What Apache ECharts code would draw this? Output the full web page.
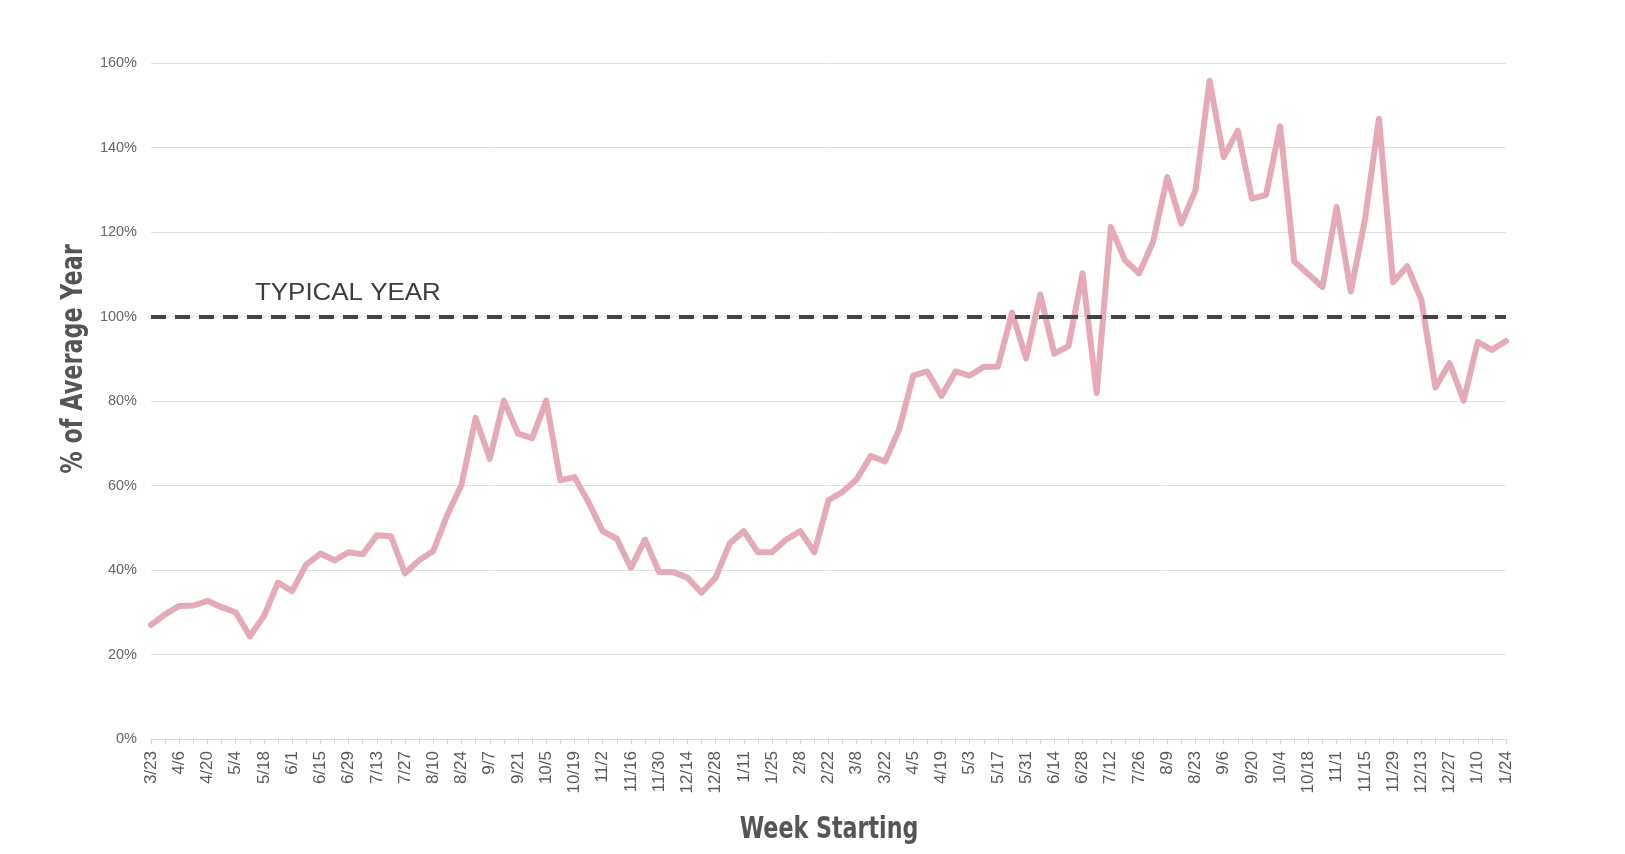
<!DOCTYPE html>
<html>
<head>
<meta charset="utf-8">
<title>% of Average Year</title>
<script src="https://cdn.jsdelivr.net/npm/echarts@6/dist/echarts.min.js"></script>
<style>
    html, body { margin: 0; padding: 0; background: #fff; }
    #chart { width: 1625px; height: 854px; }
</style>
</head>
<body>
<div id="chart"></div>
<script>
// week starting dates, 3/23/2020 .. 1/24/2022
const weeks = [
    '3/23', '3/30', '4/6', '4/13', '4/20', '4/27', '5/4', '5/11', '5/18', '5/25',
    '6/1', '6/8', '6/15', '6/22', '6/29', '7/6', '7/13', '7/20', '7/27', '8/3',
    '8/10', '8/17', '8/24', '8/31', '9/7', '9/14', '9/21', '9/28', '10/5', '10/12',
    '10/19', '10/26', '11/2', '11/9', '11/16', '11/23', '11/30', '12/7', '12/14', '12/21',
    '12/28', '1/4', '1/11', '1/18', '1/25', '2/1', '2/8', '2/15', '2/22', '3/1',
    '3/8', '3/15', '3/22', '3/29', '4/5', '4/12', '4/19', '4/26', '5/3', '5/10',
    '5/17', '5/24', '5/31', '6/7', '6/14', '6/21', '6/28', '7/5', '7/12', '7/19',
    '7/26', '8/2', '8/9', '8/16', '8/23', '8/30', '9/6', '9/13', '9/20', '9/27',
    '10/4', '10/11', '10/18', '10/25', '11/1', '11/8', '11/15', '11/22', '11/29', '12/6',
    '12/13', '12/20', '12/27', '1/3', '1/10', '1/17', '1/24'
];

// % of an average year
const pctOfAverage = [
    27, 29.5, 31.5, 31.6, 32.7, 31.2, 30, 24.3, 29.1, 37,
    35, 41.3, 43.9, 42.3, 44.2, 43.7, 48.2, 48, 39.2, 42.3,
    44.5, 53.1, 60.2, 76, 66.3, 80.1, 72.3, 71.2, 80.1, 61.2,
    62, 56, 49.2, 47.4, 40.5, 47.2, 39.5, 39.5, 38.2, 34.6,
    38.2, 46.3, 49.2, 44.2, 44.2, 47.2, 49.2, 44.2, 56.5, 58.5,
    61.5, 67, 65.7, 73.2, 86, 87, 81.2, 87, 86, 88.1,
    88.1, 100.9, 90.1, 105.2, 91.2, 93, 110.2, 81.9, 121.2, 113.3,
    110.2, 117.7, 133, 122, 129.9, 155.8, 137.7, 144, 127.9, 128.8,
    145, 113, 110, 107, 125.9, 105.9, 122.8, 146.8, 108.1, 111.9,
    104, 83.2, 89, 80.1, 94, 92.1, 94.2
];

const typicalYear = 100;
const yMin = 0, yMax = 160, yStep = 20;

// no condensed font installed: squeeze a bold sans with scaleX instead
const titleFont = "'DejaVu Sans', sans-serif";
const labelFont = "'Liberation Sans', Arial, sans-serif";

let chart = echarts.init(document.getElementById('chart'), null, { renderer: 'canvas' });

chart.setOption({
    backgroundColor: '#ffffff',
    animation: false,
    grid: { left: 151, right: 119, top: 63, bottom: 115 },
    xAxis: {
        type: 'category',
        data: weeks,
        boundaryGap: false,
        axisLine: { show: true, lineStyle: { color: '#d9d9d9', width: 1 } },
        axisTick: { show: true, interval: 0, length: 5, lineStyle: { color: '#d4d4d4' } },
        axisLabel: {
            interval: 1,
            rotate: 90,
            margin: 12,
            fontFamily: labelFont,
            fontSize: 17,
            color: '#595959'
        },
        splitLine: { show: false }
    },
    yAxis: {
        type: 'value',
        min: yMin,
        max: yMax,
        interval: yStep,
        axisLine: { show: false },
        axisTick: { show: false },
        axisLabel: {
            formatter: '{value}%',
            margin: 14,
            fontFamily: labelFont,
            fontSize: 14.5,
            color: '#666666'
        },
        splitLine: { show: true, lineStyle: { color: '#e0e0e0', width: 1 } }
    },
    graphic: [
        {
            // y axis title
            type: 'text',
            x: 74, y: 359,
            rotation: Math.PI / 2,
            scaleX: 0.72,
            style: {
                text: '% of Average Year',
                fontFamily: titleFont,
                fontWeight: 'bold',
                fontSize: 31,
                fill: '#555555',
                align: 'center',
                verticalAlign: 'middle'
            }
        },
        {
            // x axis title
            type: 'text',
            x: 829, y: 830,
            scaleX: 0.74,
            style: {
                text: 'Week Starting',
                fontFamily: titleFont,
                fontWeight: 'bold',
                fontSize: 30,
                fill: '#555555',
                align: 'center',
                verticalAlign: 'middle'
            }
        },
        {
            type: 'text',
            x: 255, y: 305,
            scaleX: 1.08,
            style: {
                text: 'TYPICAL YEAR',
                fontFamily: labelFont,
                fontSize: 24,
                fill: '#3d3d3d',
                align: 'left',
                verticalAlign: 'bottom'
            }
        }
    ],
    series: [{
        type: 'line',
        data: pctOfAverage,
        showSymbol: false,
        symbol: 'none',
        lineStyle: { color: '#e4aab7', width: 6, join: 'round', cap: 'round' },
        z: 2,
        markLine: {
            silent: true,
            symbol: 'none',
            label: { show: false },
            lineStyle: { color: '#444444', width: 4, type: [15, 9], cap: 'butt' },
            z: 5,
            data: [{ yAxis: typicalYear }]
        }
    }]
});
</script>
</body>
</html>
